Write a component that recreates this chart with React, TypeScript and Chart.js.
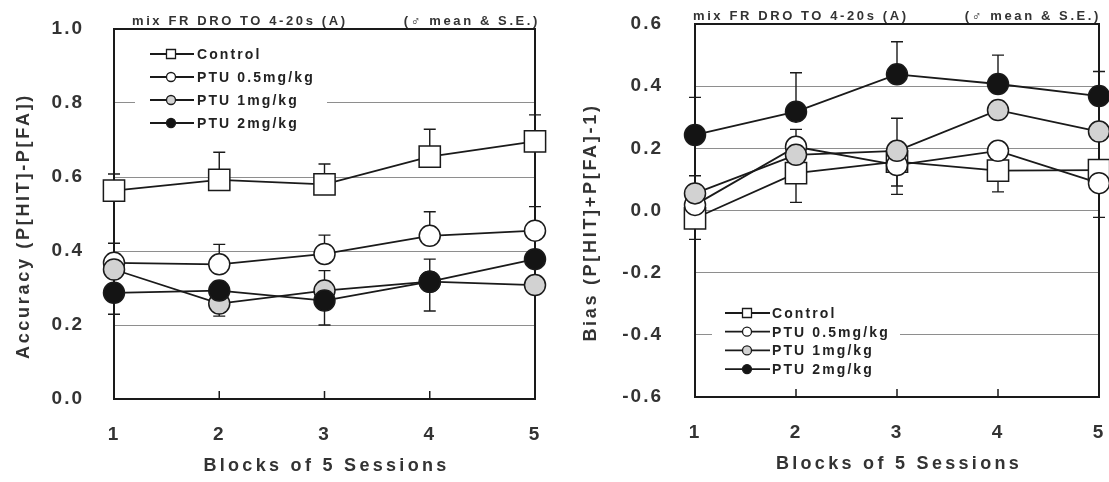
import React, { useEffect, useRef } from 'react';
import { Chart, registerables } from 'chart.js';

Chart.register(...registerables);

// ---------- data ----------
const blocks = [1, 2, 3, 4, 5];
const seriesNames = ['Control', 'PTU 0.5mg/kg', 'PTU 1mg/kg', 'PTU 2mg/kg'];

const accYTicks = [0, 0.2, 0.4, 0.6, 0.8, 1.0];
const biasYTicks = [-0.6, -0.4, -0.2, 0, 0.2, 0.4, 0.6];

// Accuracy (P[HIT]-P[FA])
const accControl = [0.563, 0.592, 0.58, 0.655, 0.696];
const accPtu05 = [0.368, 0.364, 0.392, 0.441, 0.455];
const accPtu1 = [0.35, 0.258, 0.293, 0.317, 0.308];
const accPtu2 = [0.287, 0.293, 0.266, 0.317, 0.378];
// S.E. bar ends (null = not visible)
const accControlHi = [0.608, 0.667, 0.635, 0.729, 0.768];
const accControlLo = [null, null, null, null, null];
const accPtu05Hi = [0.421, 0.418, 0.443, 0.506, 0.52];
const accPtu05Lo = [null, null, null, null, null];
const accPtu1Hi = [null, null, 0.347, null, null];
const accPtu1Lo = [null, 0.224, null, null, null];
const accPtu2Hi = [null, null, null, 0.378, null];
const accPtu2Lo = [0.229, null, 0.2, 0.238, null];

// Bias (P[HIT]+P[FA]-1)
const biasControl = [-0.025, 0.12, 0.157, 0.128, 0.13];
const biasPtu05 = [0.018, 0.205, 0.146, 0.192, 0.088];
const biasPtu1 = [0.055, 0.179, 0.192, 0.323, 0.254];
const biasPtu2 = [0.243, 0.318, 0.438, 0.407, 0.368];
const biasControlHi = [null, null, null, null, null];
const biasControlLo = [-0.093, 0.026, 0.052, 0.06, -0.022];
const biasPtu05Hi = [null, null, null, null, null];
const biasPtu05Lo = [null, null, 0.079, null, null];
const biasPtu1Hi = [0.112, 0.261, 0.297, null, null];
const biasPtu1Lo = [null, null, null, null, null];
const biasPtu2Hi = [0.364, 0.443, 0.543, 0.5, 0.447];
const biasPtu2Lo = [null, null, null, null, null];

const subtitleLeft = 'mix FR DRO TO 4-20s (A)';
const subtitleRight = '(\u2642 mean & S.E.)';
const xTitle = 'Blocks of 5 Sessions';
const accTitle = 'Accuracy (P[HIT]-P[FA])';
const biasTitle = 'Bias (P[HIT]+P[FA]-1)';

// ---------- styles ----------
const INK = '#1a1a1a';
const TEXT = '#333333';
const GRID = '#8e8e8e';
const CLEAR = 'rgba(0,0,0,0)';
const FONT = '"Liberation Sans", Arial, sans-serif';
const markerStyles = ['rect', 'circle', 'circle', 'circle'];
const markerFills = ['#ffffff', '#ffffff', '#d2d2d2', '#141414'];

type Legend = { boxX0: number; boxX1: number; boxY0: number; boxY1: number; lineX0: number; lineX1: number; markX: number; textX: number; rowY0: number; rowGap: number };
type Panel = {
  values: number[][];
  hi: (number | null)[][];
  lo: (number | null)[][];
  yTicks: number[];
  yTitle: string;
  width: number;
  padTop: number;
  padRight: number;
  yAxisW: number;
  xAxisH: number;
  yTickPad: number;
  yTitleX: number;
  yTitleDy: number;
  xTitleY: number;
  subDx: number;
  subRightDx: number;
  legend: Legend;
};

// legend x positions are offsets from the plot's left edge
const accPanel: Panel = {
  values: [accControl, accPtu05, accPtu1, accPtu2],
  hi: [accControlHi, accPtu05Hi, accPtu1Hi, accPtu2Hi],
  lo: [accControlLo, accPtu05Lo, accPtu1Lo, accPtu2Lo],
  yTicks: accYTicks,
  yTitle: accTitle,
  width: 555,
  padTop: 29,
  padRight: 20,
  yAxisW: 114,
  xAxisH: 83,
  yTickPad: 30,
  yTitleX: 24,
  yTitleDy: 12,
  xTitleY: 466,
  subDx: 18,
  subRightDx: 5,
  legend: { boxX0: 21, boxX1: 213, boxY0: 40, boxY1: 135, lineX0: 36, lineX1: 80, markX: 57, textX: 83, rowY0: 54, rowGap: 23 },
};

const biasPanel: Panel = {
  values: [biasControl, biasPtu05, biasPtu1, biasPtu2],
  hi: [biasControlHi, biasPtu05Hi, biasPtu1Hi, biasPtu2Hi],
  lo: [biasControlLo, biasPtu05Lo, biasPtu1Lo, biasPtu2Lo],
  yTicks: biasYTicks,
  yTitle: biasTitle,
  width: 554,
  padTop: 24,
  padRight: 10,
  yAxisW: 140,
  xAxisH: 85,
  yTickPad: 32,
  yTitleX: 36,
  yTitleDy: 12,
  xTitleY: 464,
  subDx: -2,
  subRightDx: 2,
  legend: { boxX0: 17, boxX1: 205, boxY0: 300, boxY1: 380, lineX0: 30, lineX1: 75, markX: 52, textX: 77, rowY0: 313, rowGap: 18.7 },
};

function drawMarker(ctx: CanvasRenderingContext2D, style: string, x: number, y: number, r: number, fill: string) {
  ctx.beginPath();
  if (style === 'rect') ctx.rect(x - r, y - r, 2 * r, 2 * r);
  else ctx.arc(x, y, r, 0, Math.PI * 2);
  ctx.fillStyle = fill;
  ctx.fill();
  ctx.lineWidth = 1.3;
  ctx.strokeStyle = INK;
  ctx.stroke();
}

function makeDecor(p: Panel) {
  return {
    id: 'decor',
    beforeDraw(chart: any) {
      chart.ctx.letterSpacing = '2px';
    },
    beforeDatasetsDraw(chart: any) {
      const { ctx, chartArea: a, scales } = chart;
      ctx.save();
      // frame
      ctx.strokeStyle = INK;
      ctx.lineWidth = 2;
      ctx.strokeRect(a.left, a.top, a.right - a.left, a.bottom - a.top);
      // inward x ticks
      ctx.lineWidth = 1.5;
      blocks.slice(1, -1).forEach((b) => {
        const px = scales.x.getPixelForValue(b);
        ctx.beginPath();
        ctx.moveTo(px, a.bottom);
        ctx.lineTo(px, a.bottom - 8);
        ctx.stroke();
      });
      // error bars
      ctx.lineWidth = 1.4;
      chart.data.datasets.forEach((ds: any) => {
        ds.data.forEach((pt: any, j: number) => {
          const px = scales.x.getPixelForValue(pt.x);
          const py = scales.y.getPixelForValue(pt.y);
          [ds.errHi[j], ds.errLo[j]].forEach((e: number | null) => {
            if (e === null || e === undefined) return;
            const ey = scales.y.getPixelForValue(e);
            ctx.beginPath();
            ctx.moveTo(px, py);
            ctx.lineTo(px, ey);
            ctx.moveTo(px - 6, ey);
            ctx.lineTo(px + 6, ey);
            ctx.stroke();
          });
        });
      });
      ctx.restore();
    },
    afterDatasetsDraw(chart: any) {
      const { ctx, chartArea: a } = chart;
      const L = p.legend;
      const off = a.left;
      ctx.save();
      ctx.fillStyle = '#ffffff';
      ctx.fillRect(off + L.boxX0, L.boxY0, L.boxX1 - L.boxX0, L.boxY1 - L.boxY0);
      ctx.font = `bold 14px ${FONT}`;
      ctx.letterSpacing = '2.1px';
      ctx.textBaseline = 'middle';
      ctx.textAlign = 'left';
      seriesNames.forEach((name, i) => {
        const y = L.rowY0 + i * L.rowGap;
        ctx.strokeStyle = INK;
        ctx.lineWidth = 1.8;
        ctx.beginPath();
        ctx.moveTo(off + L.lineX0, y);
        ctx.lineTo(off + L.lineX1, y);
        ctx.stroke();
        drawMarker(ctx, markerStyles[i], off + L.markX, y, 4.5, markerFills[i]);
        ctx.fillStyle = '#222222';
        ctx.fillText(name, off + L.textX, y + 1);
      });
      ctx.restore();
    },
    afterDraw(chart: any) {
      const { ctx, chartArea: a } = chart;
      ctx.save();
      ctx.fillStyle = TEXT;
      ctx.textBaseline = 'middle';
      // subtitles
      ctx.font = `bold 13px ${FONT}`;
      ctx.letterSpacing = '2.6px';
      ctx.textAlign = 'left';
      ctx.fillText(subtitleLeft, a.left + p.subDx, a.top - 8);
      ctx.textAlign = 'right';
      ctx.fillText(subtitleRight, a.right + p.subRightDx, a.top - 8);
      // x title
      ctx.font = `bold 18px ${FONT}`;
      ctx.letterSpacing = '3.3px';
      ctx.textAlign = 'center';
      ctx.fillText(xTitle, (a.left + a.right) / 2 + 2, p.xTitleY);
      // y title
      ctx.letterSpacing = '2.7px';
      ctx.translate(p.yTitleX, (a.top + a.bottom) / 2 + p.yTitleDy);
      ctx.rotate(-Math.PI / 2);
      ctx.fillText(p.yTitle, 0, 0);
      ctx.restore();
    },
  };
}

function buildConfig(p: Panel): any {
  const yMin = p.yTicks[0];
  const yMax = p.yTicks[p.yTicks.length - 1];
  const datasets = seriesNames.map((name, i) => ({
    label: name,
    data: blocks.map((b, j) => ({ x: b, y: p.values[i][j] })),
    errHi: p.hi[i],
    errLo: p.lo[i],
    borderColor: INK,
    borderWidth: 1.8,
    pointStyle: markerStyles[i],
    pointRadius: markerStyles[i] === 'rect' ? 15 : 10.5,
    pointBackgroundColor: markerFills[i],
    pointBorderColor: INK,
    pointBorderWidth: 1.5,
    tension: 0,
    fill: false,
    clip: false,
    order: 4 - i,
  }));
  return {
    type: 'line',
    data: { datasets },
    plugins: [makeDecor(p)],
    options: {
      responsive: false,
      animation: false,
      events: [],
      devicePixelRatio: 1,
      layout: { autoPadding: false, padding: { top: p.padTop, right: p.padRight, left: 0, bottom: 0 } },
      plugins: { legend: { display: false }, tooltip: { enabled: false }, title: { display: false } },
      scales: {
        x: {
          type: 'linear',
          min: blocks[0],
          max: blocks[blocks.length - 1],
          ticks: {
            stepSize: 1,
            padding: 0,
            color: TEXT,
            font: { family: FONT, size: 19, weight: 'bold' },
            callback: (v: any) => String(v),
          },
          grid: {
            display: true,
            drawOnChartArea: false,
            drawTicks: true,
            tickLength: 24,
            color: CLEAR,
            tickColor: CLEAR,
          },
          border: { display: false },
          afterFit: (s: any) => {
            s.height = p.xAxisH;
          },
        },
        y: {
          type: 'linear',
          min: yMin,
          max: yMax,
          ticks: {
            stepSize: 0.2,
            padding: 0,
            color: TEXT,
            font: { family: FONT, size: 19, weight: 'bold' },
            callback: (v: any) => (Math.abs(v) < 1e-9 ? '0.0' : Number(v).toFixed(1)),
          },
          grid: {
            drawTicks: true,
            tickLength: p.yTickPad,
            tickColor: CLEAR,
            lineWidth: 1,
            color: (c: any) =>
              c.tick && (Math.abs(c.tick.value - yMin) < 1e-6 || Math.abs(c.tick.value - yMax) < 1e-6)
                ? CLEAR
                : GRID,
          },
          border: { display: false },
          afterFit: (s: any) => {
            s.width = p.yAxisW;
          },
        },
      },
    },
  };
}

function PanelChart({ panel, left }: { panel: Panel; left: number }) {
  const ref = useRef<HTMLCanvasElement>(null);
  useEffect(() => {
    const chart = new Chart(ref.current as HTMLCanvasElement, buildConfig(panel));
    return () => chart.destroy();
  }, []);
  return (
    <canvas
      ref={ref}
      width={panel.width}
      height={482}
      style={{ position: 'absolute', left, top: 0, width: panel.width, height: 482 }}
    />
  );
}

export default function App() {
  return (
    <div style={{ position: 'fixed', left: 0, top: 0, width: 1109, height: 482, background: '#ffffff', overflow: 'hidden' }}>
      <PanelChart panel={accPanel} left={0} />
      <PanelChart panel={biasPanel} left={555} />
    </div>
  );
}
